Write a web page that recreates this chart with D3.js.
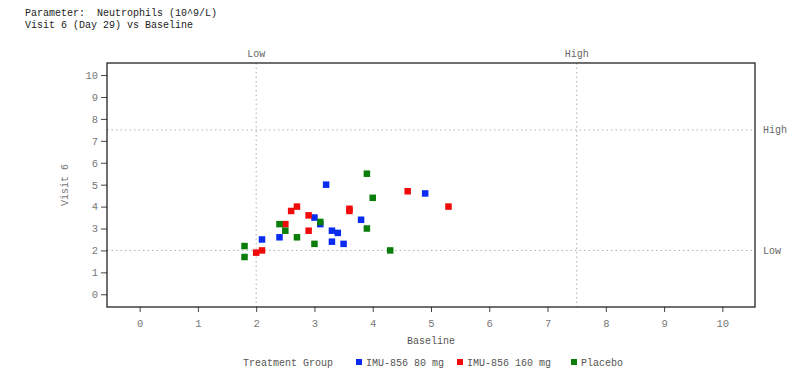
<!DOCTYPE html>
<html>
<head>
<meta charset="utf-8">
<script src="https://cdn.jsdelivr.net/npm/d3@7"></script>
<style>
  body { margin: 0; background: #fff; }
  text { font-family: "Liberation Mono", "DejaVu Sans Mono", monospace; white-space: pre; }
</style>
</head>
<body>
<div id="host"></div>
<script>
const groups = ['IMU-856 80 mg', 'IMU-856 160 mg', 'Placebo'];
const colors = ['#0a2cf2', '#f00a0a', '#0a7d0a'];

// [baseline, visit6] per subject
const lowDose = [[2.1, 2.5], [2.4, 2.6], [3.0, 3.5], [3.1, 3.2], [3.2, 5.0], [3.3, 2.9],
  [3.4, 2.8], [3.3, 2.4], [3.5, 2.3], [3.8, 3.4], [4.9, 4.6]];
const highDose = [[2.0, 1.9], [2.1, 2.0], [2.5, 3.2], [2.6, 3.8], [2.7, 4.0], [2.9, 3.6],
  [2.9, 2.9], [3.6, 3.9], [3.6, 3.8], [4.6, 4.7], [5.3, 4.0]];
const placebo = [[1.8, 2.2], [1.8, 1.7], [2.4, 3.2], [2.5, 2.9], [2.7, 2.6], [3.0, 2.3],
  [3.1, 3.3], [3.9, 5.5], [4.0, 4.4], [3.9, 3.0], [4.3, 2.0]];

const ticks = [0, 1, 2, 3, 4, 5, 6, 7, 8, 9, 10];
const lowRef = 2;
const highRef = 7.5;

const width = 795, height = 370;
const margin = { top: 63, right: 40, bottom: 63, left: 107 };
const innerW = width - margin.left - margin.right;
const innerH = height - margin.top - margin.bottom;

const svg = d3.select('#host').append('svg')
  .attr('width', width).attr('height', height);

svg.append('text').attr('x', 25).attr('y', 16).attr('font-size', 10).attr('fill', '#222')
  .attr('xml:space', 'preserve')
  .text('Parameter:  Neutrophils (10^9/L)');
svg.append('text').attr('x', 25).attr('y', 28).attr('font-size', 10).attr('fill', '#222')
  .text('Visit 6 (Day 29) vs Baseline');

const x = d3.scaleLinear().domain([-0.56, 10.56]).range([0, innerW]);
const y = d3.scaleLinear().domain([-0.58, 10.55]).range([innerH, 0]);

const g = svg.append('g').attr('transform', `translate(${margin.left},${margin.top})`);

// reference lines
const refColor = '#b0b0b0';
[lowRef, highRef].forEach((v) => {
  g.append('line').attr('x1', x(v)).attr('x2', x(v)).attr('y1', 0).attr('y2', innerH)
    .attr('stroke', refColor).attr('stroke-dasharray', '1.5,3');
  g.append('line').attr('x1', 0).attr('x2', innerW).attr('y1', y(v)).attr('y2', y(v))
    .attr('stroke', refColor).attr('stroke-dasharray', '1.5,3');
});
g.append('text').attr('x', x(lowRef)).attr('y', -6).attr('text-anchor', 'middle')
  .attr('font-size', 10).attr('fill', '#666').text('Low');
g.append('text').attr('x', x(highRef)).attr('y', -6).attr('text-anchor', 'middle')
  .attr('font-size', 10).attr('fill', '#666').text('High');
g.append('text').attr('x', innerW + 8).attr('y', y(highRef) + 3.5)
  .attr('font-size', 10).attr('fill', '#666').text('High');
g.append('text').attr('x', innerW + 8).attr('y', y(lowRef) + 3.5)
  .attr('font-size', 10).attr('fill', '#666').text('Low');

// axes
const yAxis = g.append('g')
  .call(d3.axisLeft(y).tickValues(ticks).tickSize(6).tickPadding(3));
const xAxis = g.append('g').attr('transform', `translate(0,${innerH})`)
  .call(d3.axisBottom(x).tickValues(ticks).tickSize(5).tickPadding(8));
[xAxis, yAxis].forEach((a) => {
  a.select('.domain').remove();
  a.selectAll('line').attr('stroke', '#444');
  a.selectAll('text').attr('font-size', 10.5).attr('fill', '#777')
    .attr('font-family', '"Liberation Mono", monospace');
});

g.append('rect').attr('x', 0).attr('y', 0).attr('width', innerW).attr('height', innerH)
  .attr('fill', 'none').attr('stroke', '#222').attr('stroke-width', 1.3);

g.append('text').attr('x', innerW / 2).attr('y', innerH + 37).attr('text-anchor', 'middle')
  .attr('font-size', 10).attr('fill', '#555').text('Baseline');
g.append('text').attr('transform', `translate(-39,${innerH / 2}) rotate(-90)`)
  .attr('text-anchor', 'middle').attr('font-size', 10).attr('fill', '#777').text('Visit 6');

// points
const sz = 6.5;
[lowDose, highDose, placebo].forEach((pts, gi) => {
  g.selectAll(`rect.pt${gi}`).data(pts).join('rect')
    .attr('class', `pt${gi}`)
    .attr('x', (d) => x(d[0]) - sz / 2)
    .attr('y', (d) => y(d[1]) - sz / 2)
    .attr('width', sz).attr('height', sz)
    .attr('fill', colors[gi]);
});

// legend
const leg = svg.append('g').attr('transform', 'translate(243,366)');
leg.append('text').attr('x', 0).attr('y', 0).attr('font-size', 10).attr('fill', '#555')
  .text('Treatment Group');
const legX = [113, 214, 328];
groups.forEach((name, i) => {
  leg.append('rect').attr('x', legX[i]).attr('y', -7).attr('width', 6).attr('height', 6)
    .attr('fill', colors[i]);
  leg.append('text').attr('x', legX[i] + 10).attr('y', 0).attr('font-size', 10)
    .attr('fill', '#555').text(name);
});
</script>
</body>
</html>
